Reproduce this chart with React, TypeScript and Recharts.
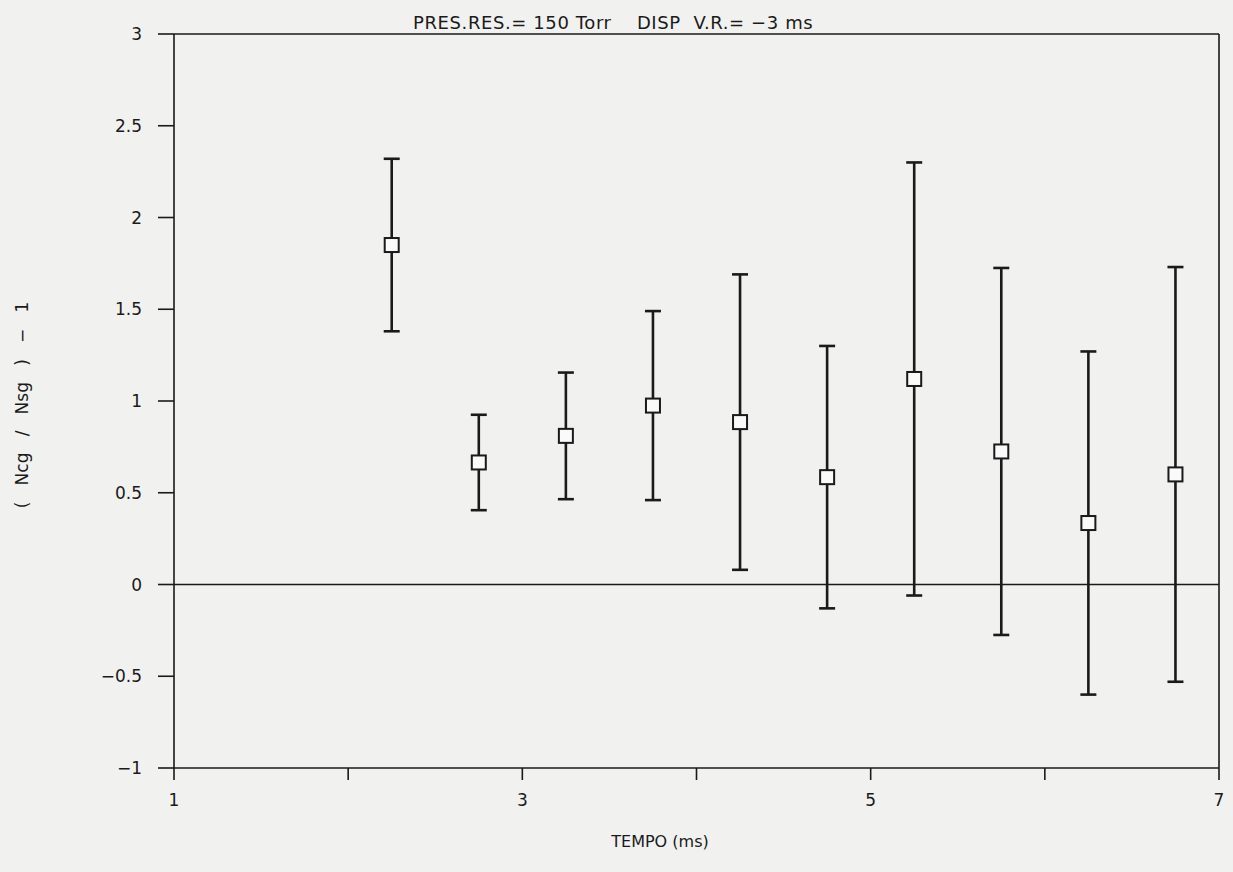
import React from 'react';
import { ComposedChart, Scatter, XAxis, YAxis, ErrorBar, ReferenceLine } from 'recharts';

const tempo = [2.25, 2.75, 3.25, 3.75, 4.25, 4.75, 5.25, 5.75, 6.25, 6.75];
const ratio = [1.85, 0.665, 0.81, 0.975, 0.885, 0.585, 1.12, 0.725, 0.335, 0.6];
const errore = [0.47, 0.26, 0.345, 0.515, 0.805, 0.715, 1.18, 1.0, 0.935, 1.13];
const xTicks = [1, 2, 3, 4, 5, 6, 7];
const xLabelled = [1, 3, 5, 7];
const yTicks = [-1, -0.5, 0, 0.5, 1, 1.5, 2, 2.5, 3];

const data = tempo.map((t, i) => ({ t, r: ratio[i], e: errore[i] }));

const FONT = '"DejaVu Sans", "Liberation Sans", sans-serif';
const INK = '#1a1a1a';

const Square = (props: any) => {
  const { cx, cy } = props;
  if (cx == null || cy == null) return null;
  return <rect x={cx - 7} y={cy - 7} width={14} height={14} fill="#fafafa" stroke={INK} strokeWidth={2} />;
};

const fmtY = (v: number) => (v < 0 ? '\u2212' + String(-v) : String(v));

export default function App() {
  return (
    <div style={{ position: 'fixed', left: 0, top: 0, width: 1233, height: 872, background: '#f1f1f0', overflow: 'hidden' }}>
      <ComposedChart width={1233} height={872} data={data} margin={{ top: 34, right: 14, bottom: 60, left: 0 }}>
        <XAxis
          type="number"
          dataKey="t"
          domain={[1, 7]}
          ticks={xTicks}
          tickFormatter={(v: number) => (xLabelled.includes(v) ? String(v) : '')}
          stroke={INK}
          strokeWidth={1.6}
          tickSize={12}
          tickMargin={14}
          height={44}
          tick={{ fill: INK, fontSize: 17, fontFamily: FONT }}
        />
        <YAxis
          type="number"
          domain={[-1, 3]}
          ticks={yTicks}
          tickFormatter={fmtY}
          stroke={INK}
          strokeWidth={1.6}
          tickSize={16}
          tickMargin={16}
          width={174}
          tick={{ fill: INK, fontSize: 17, fontFamily: FONT }}
        />
        <ReferenceLine y={3} stroke={INK} strokeWidth={1.6} />
        <ReferenceLine x={7} stroke={INK} strokeWidth={1.6} />
        <ReferenceLine y={0} stroke={INK} strokeWidth={1.6} />
        <Scatter dataKey="r" shape={Square} isAnimationActive={false}>
          <ErrorBar dataKey="e" direction="y" width={8} stroke={INK} strokeWidth={2.6} />
        </Scatter>
      </ComposedChart>
      <div style={{ position: 'absolute', left: 413, top: 12, fontFamily: FONT, fontSize: 18, letterSpacing: 0.6, color: INK, whiteSpace: 'pre' }}>
        {'PRES.RES.= 150 Torr    DISP  V.R.= \u22123 ms'}
      </div>
      <div style={{ position: 'absolute', left: 0, top: 832, width: 1320, textAlign: 'center', fontFamily: FONT, fontSize: 16, color: INK }}>
        TEMPO (ms)
      </div>
      <div
        style={{
          position: 'absolute',
          left: 22,
          top: 405,
          transform: 'translate(-50%, -50%) rotate(-90deg)',
          fontFamily: FONT,
          fontSize: 17,
          color: INK,
          whiteSpace: 'pre',
        }}
      >
        {'(   Ncg   /   Nsg   )   \u2212   1'}
      </div>
    </div>
  );
}
